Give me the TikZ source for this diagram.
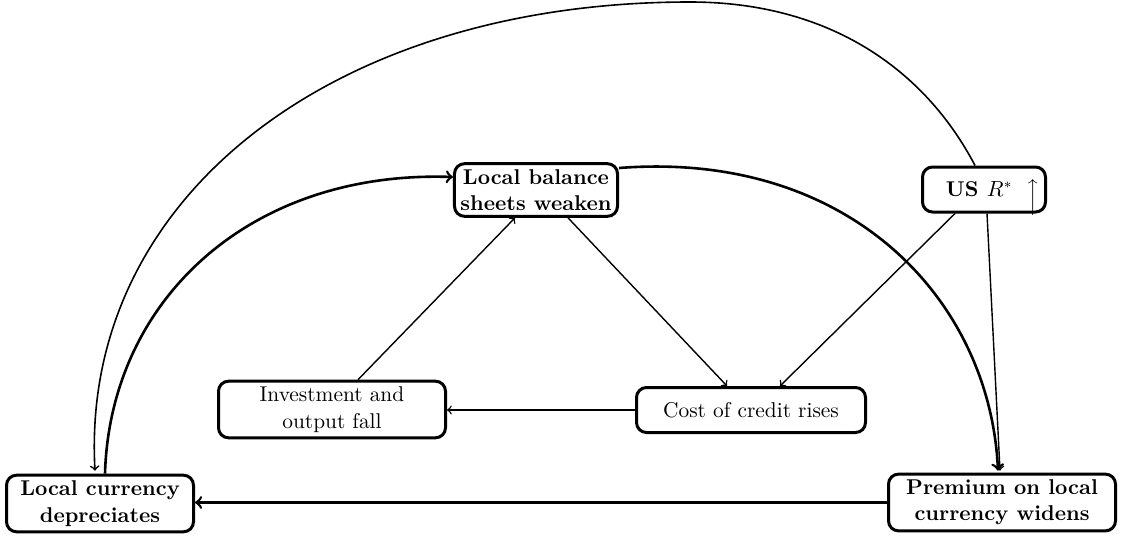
\documentclass[tikz,border=0pt]{standalone}
\usetikzlibrary{calc}
\begin{document}
\begin{tikzpicture}[x=0.5pt,y=-0.5pt,
  box/.style={draw,rounded corners=5pt,line width=1.5pt,align=center,
    inner xsep=3pt,inner ysep=2.8pt,minimum height=22.5pt,
    font=\fontsize{10.7}{13.2}\selectfont},
  bbox/.style={box,font=\fontsize{10.7}{13.2}\selectfont\bfseries},
  thinarrow/.style={->,line width=0.7pt},
  thickarrow/.style={->,line width=1.3pt}]
\useasboundingbox (0,0) rectangle (1123,536);
\node[bbox,minimum width=77.5pt] (lbs) at (536,190) {Local balance\\sheets weaken};
\node[bbox,minimum width=61.5pt,inner xsep=0pt] (us) at (984,189.5) {\hspace{9pt}US $R^*$\hspace{7pt}\smash{\raisebox{-3pt}{$\Big\uparrow$}}};
\node[box,minimum width=113.5pt] (inv) at (332,409.5) {Investment and\\output fall};
\node[box,minimum width=114.5pt] (cost) at (751,410) {Cost of credit rises};
\node[bbox,minimum width=93.5pt] (lcd) at (100,503.5) {Local currency\\depreciates};
\node[bbox,minimum width=113.5pt] (prem) at (1002,502.5) {Premium on local\\currency widens};
\coordinate (peak) at (690,2);

\draw[thinarrow] ($(lbs.south)+(32,0)$) -- ($(cost.north)+(-24,0)$);
\draw[thinarrow] ($(us.south)+(-29,0)$) -- ($(cost.north)+(29,0)$);
\draw[thinarrow] ($(inv.north)+(26,0)$) -- ($(lbs.south)+(-21,0)$);
\draw[thinarrow] (cost.west) -- (cost.west -| inv.east);
\draw[thickarrow] (prem.west) -- (prem.west -| lcd.east);
\draw[thinarrow] ($(us.south)+(3,0)$) -- ($(prem.north)+(-2,-2)$);
\draw[thickarrow] ($(lbs.east)+(0,-22)$) .. controls (850,150) and (990,300) .. ($(prem.north)+(-4,-2)$);
\draw[thickarrow] ($(lcd.north)+(5,0)$) .. controls (110,300) and (250,170) .. ($(lbs.west)+(0,-13)$);
\draw[line width=0.8pt,->] ($(us.north)+(-9,0)$) .. controls (925,70) and (830,2) .. (peak)
  .. controls (330,2) and (80,200) .. ($(lcd.north)+(-5,-3)$);
\end{tikzpicture}
\end{document}
